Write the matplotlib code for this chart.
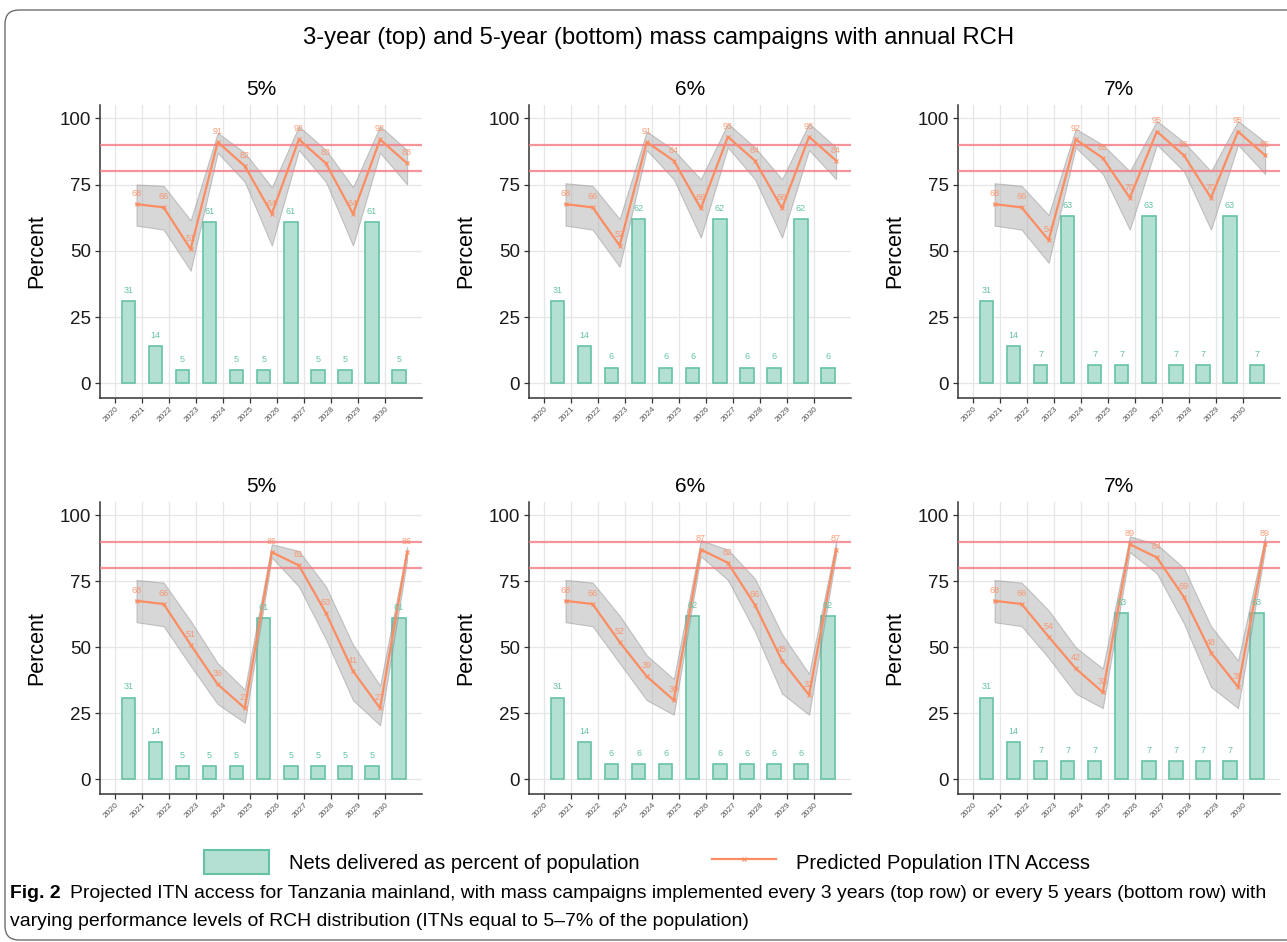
import matplotlib
matplotlib.use('Agg')
import matplotlib.pyplot as plt
import numpy as np
from matplotlib.patches import Patch, FancyBboxPatch
from matplotlib.lines import Line2D
from matplotlib import font_manager

plt.rcParams['font.family'] = ['Liberation Sans', 'DejaVu Sans']

# ---- data ----
years = np.arange(2020, 2031)
rch_levels = ['5%', '6%', '7%']

# nets delivered as % of population (top row: 3-year campaigns, bottom: 5-year)
nets_3yr = [
    [31, 14, 5, 61, 5, 5, 61, 5, 5, 61, 5],
    [31, 14, 6, 62, 6, 6, 62, 6, 6, 62, 6],
    [31, 14, 7, 63, 7, 7, 63, 7, 7, 63, 7],
]
nets_5yr = [
    [31, 14, 5, 5, 5, 61, 5, 5, 5, 5, 61],
    [31, 14, 6, 6, 6, 62, 6, 6, 6, 6, 62],
    [31, 14, 7, 7, 7, 63, 7, 7, 7, 7, 63],
]

# predicted population ITN access
access_3yr = [
    [67.6, 66.4, 50.6, 91, 82, 64, 92, 83, 64, 92, 83],
    [67.6, 66.4, 52, 91, 84, 66, 93, 84, 66, 93, 84],
    [67.6, 66.4, 54, 92, 85, 70, 95, 86, 70, 95, 86],
]
access_5yr = [
    [67.6, 66.4, 51, 36, 27, 86, 81, 63, 41, 27, 86],
    [67.6, 66.4, 52, 39, 30, 87, 82, 66, 45, 32, 87],
    [67.6, 66.4, 54, 42, 33, 89, 84, 69, 48, 35, 89],
]

# uncertainty ribbon
lower_3yr = [
    [59.5, 58, 42.5, 87, 76, 52, 88, 76, 52, 87, 75],
    [59.5, 58, 44, 88, 77, 55, 89, 77, 55, 88, 77],
    [59.5, 58, 45.5, 89, 79, 58, 90, 80, 58, 90, 79],
]
upper_3yr = [
    [75, 74.5, 61.5, 94.5, 87, 74, 97, 88, 74, 97, 88],
    [75.5, 74.5, 62, 95, 88, 77, 98, 89, 77, 98, 89],
    [75.5, 74.5, 63.5, 96, 90, 80, 99, 91, 80, 99, 91],
]
lower_5yr = [
    [59.5, 58, 43, 28.5, 21.5, 84, 73, 53, 30, 20.5, 83],
    [59.5, 58, 44, 30, 24.5, 84.5, 75.5, 56, 32.5, 24.5, 85],
    [59.5, 58, 46, 32.5, 27, 86, 78, 59, 35, 27, 87],
]
upper_5yr = [
    [75.5, 74.5, 60, 44, 34, 89, 86.5, 73, 51, 35.5, 88],
    [75.5, 74.5, 62, 47, 38, 90.5, 87, 76, 55, 40, 90],
    [75.5, 74.5, 64, 50, 42, 92, 89, 80, 58, 45, 92],
]

W, H = 1287, 942
fig = plt.figure(figsize=(W / 100, H / 100), dpi=100)

green = '#66C2A5'
green_fill = '#b3e0d2'
orange = '#FC8D62'

ax_left = [100, 529, 958]
ax_w = 322
rows = [
    (105, 398, nets_3yr, access_3yr, lower_3yr, upper_3yr),
    (502, 794, nets_5yr, access_5yr, lower_5yr, upper_5yr),
]

for top, bottom, nets, access, lower, upper in rows:
    for i in range(3):
        ax = fig.add_axes([ax_left[i] / W, 1 - bottom / H, ax_w / W, (bottom - top) / H])
        ax.set_axisbelow(True)
        ax.grid(color='#e6e6e6', lw=0.9)

        ax.bar(years + 0.5, nets[i], width=0.5, color=green_fill, edgecolor=green, lw=1.2, zorder=2)
        for x, v in zip(years, nets[i]):
            ax.text(x + 0.5, v + 4, str(v), ha='center', va='center', fontsize=6.5, color=green, zorder=5)

        ax.fill_between(years + 0.8, lower[i], upper[i], facecolor='#a8a8a8', alpha=0.45,
                        edgecolor='#8c8c8c', lw=0.8, zorder=3)
        ax.axhline(80, color='#f47a82', lw=1.6, alpha=0.8, zorder=3.5)
        ax.axhline(90, color='#f47a82', lw=1.6, alpha=0.8, zorder=3.5)
        ax.plot(years + 0.8, access[i], color=orange, lw=1.6, marker='x', ms=3, mew=0.8, zorder=4)
        for x, v in zip(years, access[i]):
            ax.text(x + 0.8, v + 4, str(int(round(v))), ha='center', va='center', fontsize=6.5,
                    color=orange, alpha=0.85, zorder=5)

        ax.set_xlim(2019.45, 2031.35)
        ax.set_ylim(-5.5, 105)
        ax.set_xticks(years)
        ax.set_xticklabels([str(y) for y in years], rotation=45, ha='right', rotation_mode='anchor',
                           fontsize=6, color='#555555')
        ax.set_yticks([0, 25, 50, 75, 100])
        ax.tick_params(axis='y', labelsize=13.5, length=3.5, width=0.9, pad=3, colors='#333333',
                       labelcolor='#1a1a1a')
        ax.tick_params(axis='x', length=3.5, width=0.9, pad=2, colors='#333333', labelcolor='#555555')
        for s in ['top', 'right']:
            ax.spines[s].set_visible(False)
        for s in ['left', 'bottom']:
            ax.spines[s].set_color('#333333')
            ax.spines[s].set_linewidth(1.1)
        ax.set_ylabel('Percent', fontsize=15.5)
        ax.yaxis.set_label_coords(-0.165, 0.5)
        ax.set_title(rch_levels[i], fontsize=15, pad=7)

fig.text(0.512, 1 - 38 / H, '3-year (top) and 5-year (bottom) mass campaigns with annual RCH',
         ha='center', va='center', fontsize=17.2)

handles = [Patch(facecolor=green_fill, edgecolor=green, lw=1.5),
           Line2D([], [], color=orange, lw=1.6, marker='x', ms=3, mew=0.8)]
fig.legend(handles, ['Nets delivered as percent of population', 'Predicted Population ITN Access'],
           loc='center', bbox_to_anchor=(0.503, 1 - 862 / H), ncol=2, frameon=False, fontsize=14.5,
           handlelength=3.2, handleheight=1.5, columnspacing=3.6, handletextpad=1.0)

# caption
names = {f.name for f in font_manager.fontManager.ttflist}
cap_font = 'Liberation Sans Narrow' if 'Liberation Sans Narrow' in names else 'Liberation Sans'
line1 = ('Projected ITN access for Tanzania mainland, with mass campaigns implemented every 3 years '
         '(top row) or every 5 years (bottom row) with')
line2 = 'varying performance levels of RCH distribution (ITNs equal to 5\u20137% of the population)'

fig.canvas.draw()
r = fig.canvas.get_renderer()
cap_fs = 12
t_fig = fig.text(10 / W, 1 - 893 / H, 'Fig. 2', fontweight='bold', family=cap_font,
                 fontsize=cap_fs, va='center')
t1 = fig.text(0, 1 - 893 / H, line1, family=cap_font, fontsize=cap_fs, va='center')
for _ in range(3):
    bb = t_fig.get_window_extent(r)
    t1.set_x((bb.x1 + 9) / W)
    width = t1.get_window_extent(r).x1 - 10
    cap_fs = cap_fs * (1263 / width)
    t_fig.set_fontsize(cap_fs)
    t1.set_fontsize(cap_fs)
bb = t_fig.get_window_extent(r)
t1.set_x((bb.x1 + 9) / W)
fig.text(10 / W, 1 - 922 / H, line2, family=cap_font, fontsize=cap_fs, va='center')

frame = FancyBboxPatch((5, 2), 1320, 930, boxstyle='round,pad=0,rounding_size=14',
                       transform=None, facecolor='none', edgecolor='#6e6e6e', lw=1.0)
fig.patches.append(frame)

fig.savefig('out.png', dpi=100)
